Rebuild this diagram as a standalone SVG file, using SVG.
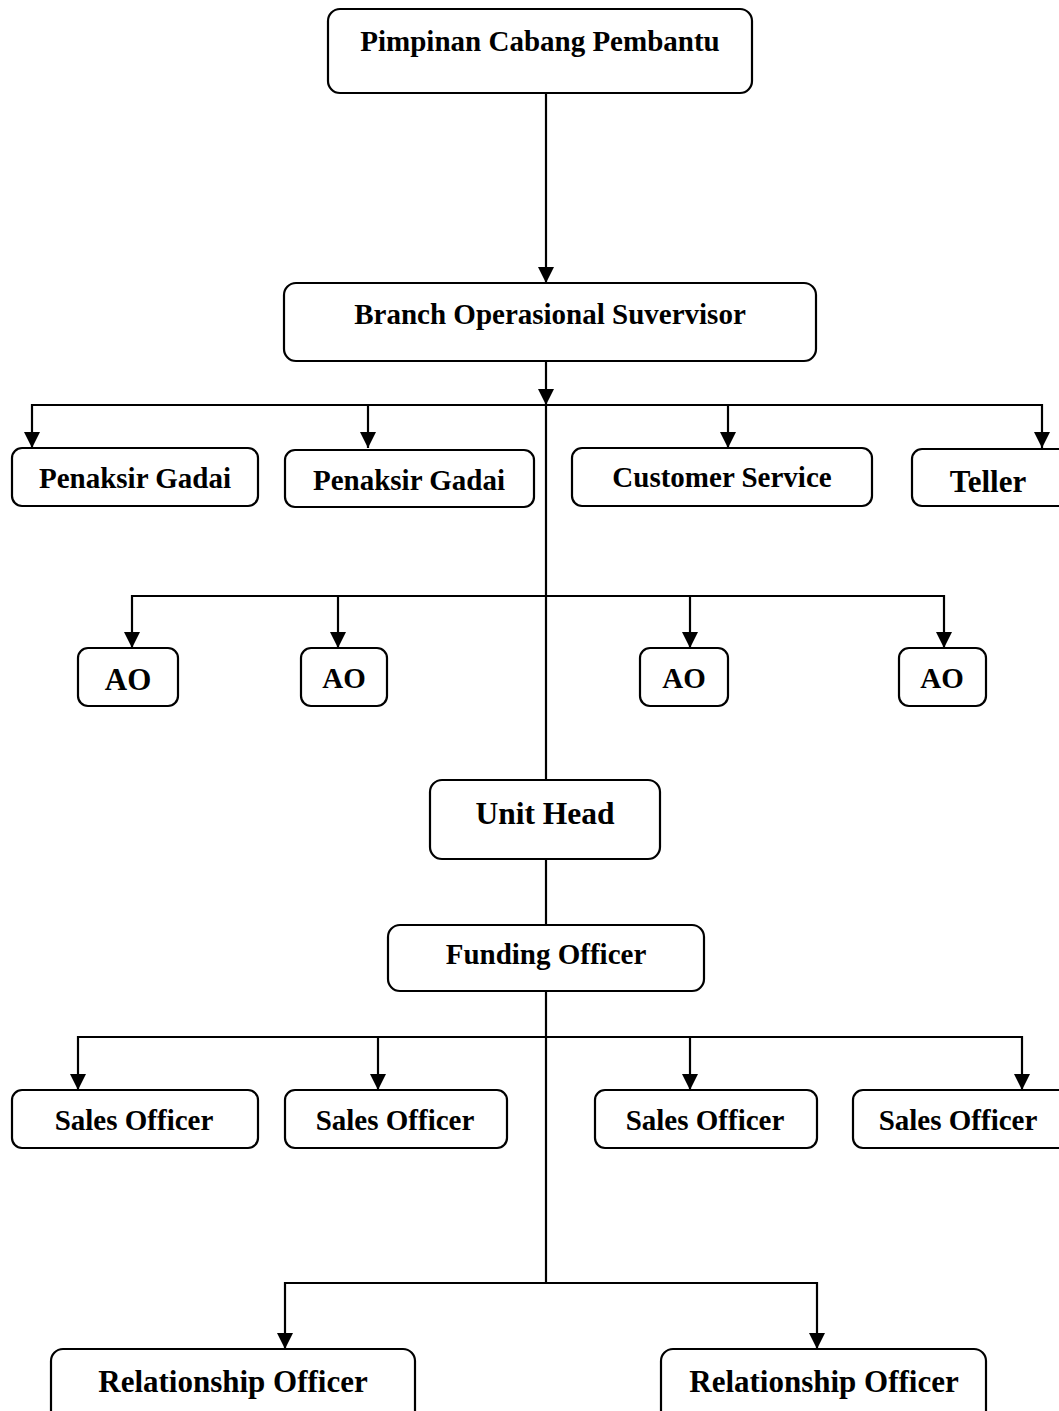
<svg xmlns="http://www.w3.org/2000/svg" width="1059" height="1411" viewBox="0 0 1059 1411">
<defs>
<marker id="arr" markerUnits="userSpaceOnUse" markerWidth="16" markerHeight="16" refX="16" refY="8" orient="auto" viewBox="0 0 16 16">
<path d="M0,0 L16,8 L0,16 z" fill="#000"/>
</marker>
</defs>
<style>
.box{fill:#fff;stroke:#000;stroke-width:2.2}
.t{font-family:"Liberation Serif","Times New Roman",serif;font-weight:bold;font-size:29px;fill:#000;text-anchor:middle}
.tl{font-size:31px}
.ln{stroke:#000;stroke-width:2.2;fill:none}
.ar{stroke:#000;stroke-width:2.2;fill:none;marker-end:url(#arr)}
</style>
<rect width="1059" height="1411" fill="#fff"/>
<g id="connectors">
<line class="ar" x1="546" y1="93" x2="546" y2="283"/>
<line class="ar" x1="546" y1="362" x2="546" y2="405"/>
<line class="ln" x1="546" y1="405" x2="546" y2="780"/>
<polyline class="ln" points="32,405 1042,405"/>
<line class="ar" x1="32" y1="404" x2="32" y2="448"/>
<line class="ar" x1="368" y1="405" x2="368" y2="448"/>
<line class="ar" x1="728" y1="405" x2="728" y2="448"/>
<line class="ar" x1="1042" y1="404" x2="1042" y2="448"/>
<polyline class="ln" points="132,596 944,596"/>
<line class="ar" x1="132" y1="595" x2="132" y2="648"/>
<line class="ar" x1="338" y1="596" x2="338" y2="648"/>
<line class="ar" x1="690" y1="596" x2="690" y2="648"/>
<line class="ar" x1="944" y1="595" x2="944" y2="648"/>
<line class="ln" x1="546" y1="859" x2="546" y2="925"/>
<line class="ln" x1="546" y1="991" x2="546" y2="1283"/>
<polyline class="ln" points="78,1037 1022,1037"/>
<line class="ar" x1="78" y1="1036" x2="78" y2="1090"/>
<line class="ar" x1="378" y1="1037" x2="378" y2="1090"/>
<line class="ar" x1="690" y1="1037" x2="690" y2="1090"/>
<line class="ar" x1="1022" y1="1036" x2="1022" y2="1090"/>
<polyline class="ln" points="285,1283 817,1283"/>
<line class="ar" x1="285" y1="1282" x2="285" y2="1349"/>
<line class="ar" x1="817" y1="1282" x2="817" y2="1349"/>
</g>
<g id="pimpinan"><rect class="box" x="328" y="9" width="424" height="84" rx="12"/><text class="t" x="540" y="51">Pimpinan Cabang Pembantu</text></g>
<g id="bos"><rect class="box" x="284" y="283" width="532" height="78" rx="12"/><text class="t" x="550" y="324">Branch Operasional Suvervisor</text></g>
<g id="penaksir1"><rect class="box" x="12" y="448" width="246" height="58" rx="10"/><text class="t" x="135" y="488">Penaksir Gadai</text></g>
<g id="penaksir2"><rect class="box" x="285" y="450" width="249" height="57" rx="10"/><text class="t" x="409" y="490">Penaksir Gadai</text></g>
<g id="cs"><rect class="box" x="572" y="448" width="300" height="58" rx="10"/><text class="t" x="722" y="487">Customer Service</text></g>
<g id="teller"><rect class="box" x="912" y="449" width="160" height="57" rx="10"/><text class="t tl" x="988" y="492">Teller</text></g>
<g id="ao1"><rect class="box" x="78" y="648" width="100" height="58" rx="10"/><text class="t tl" x="128" y="690">AO</text></g>
<g id="ao2"><rect class="box" x="301" y="648" width="86" height="58" rx="10"/><text class="t" x="344" y="688">AO</text></g>
<g id="ao3"><rect class="box" x="640" y="648" width="88" height="58" rx="10"/><text class="t" x="684" y="688">AO</text></g>
<g id="ao4"><rect class="box" x="899" y="648" width="87" height="58" rx="10"/><text class="t" x="942" y="688">AO</text></g>
<g id="unithead"><rect class="box" x="430" y="780" width="230" height="79" rx="12"/><text class="t" x="545" y="824" style="font-size:31.5px">Unit Head</text></g>
<g id="funding"><rect class="box" x="388" y="925" width="316" height="66" rx="12"/><text class="t" x="546" y="964">Funding Officer</text></g>
<g id="sales1"><rect class="box" x="12" y="1090" width="246" height="58" rx="10"/><text class="t" x="134" y="1130">Sales Officer</text></g>
<g id="sales2"><rect class="box" x="285" y="1090" width="222" height="58" rx="10"/><text class="t" x="395" y="1130">Sales Officer</text></g>
<g id="sales3"><rect class="box" x="595" y="1090" width="222" height="58" rx="10"/><text class="t" x="705" y="1130">Sales Officer</text></g>
<g id="sales4"><rect class="box" x="853" y="1090" width="220" height="58" rx="10"/><text class="t" x="958" y="1130">Sales Officer</text></g>
<g id="ro1"><rect class="box" x="51" y="1349" width="364" height="80" rx="12"/><text class="t tl" x="233" y="1392">Relationship Officer</text></g>
<g id="ro2"><rect class="box" x="661" y="1349" width="325" height="80" rx="12"/><text class="t tl" x="824" y="1392">Relationship Officer</text></g>
</svg>
